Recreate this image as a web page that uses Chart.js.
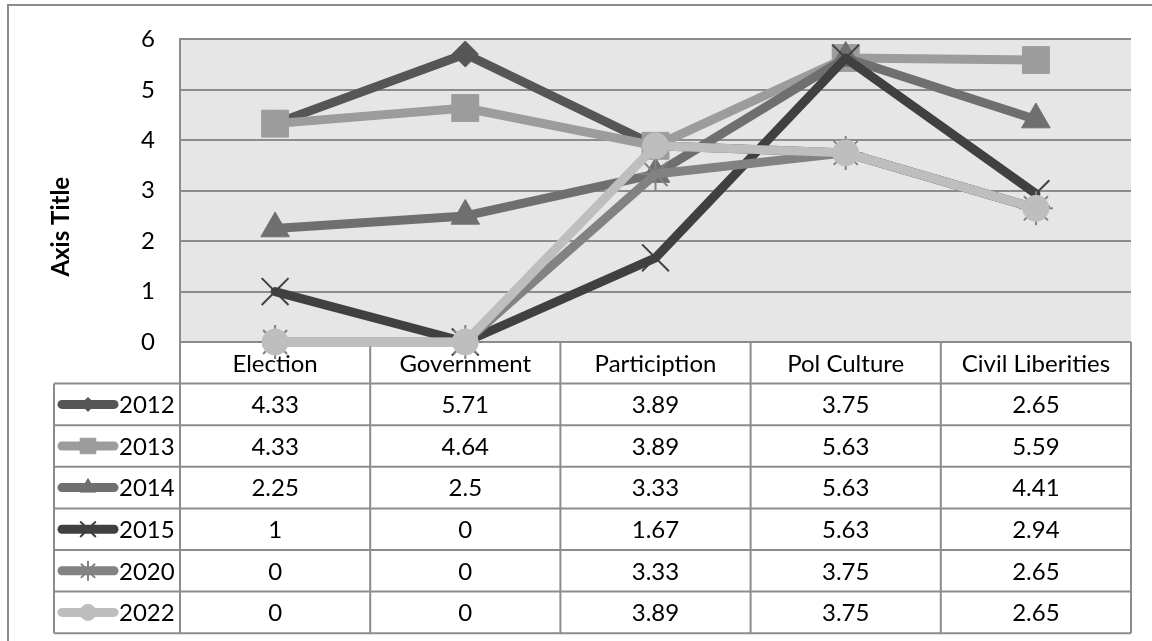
<!DOCTYPE html>
<html>
<head>
<meta charset="utf-8">
<script src="https://cdn.jsdelivr.net/npm/chart.js@4/dist/chart.umd.min.js"></script>
<style>
  html, body { margin: 0; padding: 0; background: #fff; }
  canvas { display: block; }
</style>
</head>
<body>
<canvas id="c" width="1152" height="641"></canvas>
<script>
// Categories along the x axis (also the table header)
const categories = ['Election', 'Government', 'Particiption', 'Pol Culture', 'Civil Liberities'];

// Series, one per year
const years = ['2012', '2013', '2014', '2015', '2020', '2022'];
const v2012 = [4.33, 5.71, 3.89, 3.75, 2.65];
const v2013 = [4.33, 4.64, 3.89, 5.63, 5.59];
const v2014 = [2.25, 2.5, 3.33, 5.63, 4.41];
const v2015 = [1, 0, 1.67, 5.63, 2.94];
const v2020 = [0, 0, 3.33, 3.75, 2.65];
const v2022 = [0, 0, 3.89, 3.75, 2.65];

// Value axis ticks
const yTicks = [0, 1, 2, 3, 4, 5, 6];

const seriesValues = [v2012, v2013, v2014, v2015, v2020, v2022];

// Styling per series (r: marker radius on the plot, key: marker radius in the table key)
const styles = [
  { color: '#565656', point: 'rectRot',  r: 13,   bw: 1, key: 7 },
  { color: '#9c9c9c', point: 'rect',     r: 19,   bw: 1, key: 11 },
  { color: '#6f6f6f', point: 'triangle', r: 16.5, bw: 1, key: 9 },
  { color: '#404040', point: 'crossRot', r: 19,   bw: 2, key: 11 },
  { color: '#828282', point: 'star',     r: 17,   bw: 2, key: 10 },
  { color: '#bebebe', point: 'circle',   r: 13,   bw: 1, key: 8 }
];

const FONT = 'Lato, "Open Sans", sans-serif';
const GRID = '#8c8c8c';
const ROW_H = 41.6;
const KEY_LEFT = 54;

const datasets = years.map((y, i) => ({
  label: y,
  data: seriesValues[i],
  borderColor: styles[i].color,
  backgroundColor: styles[i].color,
  borderWidth: 9,
  borderJoinStyle: 'round',
  borderCapStyle: 'round',
  pointStyle: styles[i].point,
  pointRadius: styles[i].r,
  pointHoverRadius: styles[i].r,
  pointBorderWidth: styles[i].bw,
  pointBorderColor: styles[i].color,
  pointBackgroundColor: styles[i].color,
  tension: 0,
  clip: false,
  order: years.length - i
}));

const tablePlugin = {
  id: 'dataTable',
  beforeDraw(chart) {
    const { ctx, chartArea: a } = chart;
    ctx.save();
    ctx.fillStyle = '#fff';
    ctx.fillRect(0, 0, chart.width, chart.height);
    // chart frame
    ctx.strokeStyle = GRID;
    ctx.lineWidth = 2;
    ctx.beginPath();
    ctx.moveTo(8, chart.height + 2);
    ctx.lineTo(8, 5);
    ctx.lineTo(chart.width + 2, 5);
    ctx.stroke();
    // plot area fill
    ctx.fillStyle = '#e6e6e6';
    ctx.fillRect(a.left, a.top, a.right - a.left, a.bottom - a.top);
    ctx.restore();
  },
  beforeDatasetsDraw(chart) {
    const { ctx, chartArea: a } = chart;
    const colW = (a.right - a.left) / categories.length;
    const top = a.bottom;
    const bottom = top + ROW_H * (years.length + 1);
    ctx.save();
    ctx.strokeStyle = GRID;
    ctx.lineWidth = 2;
    ctx.beginPath();
    // horizontal rules
    ctx.moveTo(a.left, top);
    ctx.lineTo(a.right, top);
    for (let k = 1; k <= years.length + 1; k++) {
      const y = top + k * ROW_H;
      ctx.moveTo(KEY_LEFT, y);
      ctx.lineTo(a.right, y);
    }
    // vertical rules
    ctx.moveTo(KEY_LEFT, top + ROW_H);
    ctx.lineTo(KEY_LEFT, bottom);
    for (let j = 0; j <= categories.length; j++) {
      const x = a.left + j * colW;
      ctx.moveTo(x, top);
      ctx.lineTo(x, bottom);
    }
    ctx.stroke();

    // header and values
    ctx.fillStyle = '#000';
    ctx.font = '24px ' + FONT;
    ctx.textAlign = 'center';
    ctx.textBaseline = 'middle';
    const xs = chart.scales.x;
    categories.forEach((c, j) => {
      ctx.fillText(c, xs.getPixelForValue(j), top + ROW_H / 2 + 1);
    });
    seriesValues.forEach((vals, i) => {
      const cy = top + (i + 1.5) * ROW_H + 1;
      vals.forEach((v, j) => {
        ctx.fillText(String(v), xs.getPixelForValue(j), cy);
      });
    });

    // legend keys
    years.forEach((yr, i) => {
      const cy = top + (i + 1.5) * ROW_H;
      const s = styles[i];
      ctx.strokeStyle = s.color;
      ctx.lineWidth = 9;
      ctx.lineCap = 'round';
      ctx.beginPath();
      ctx.moveTo(62, cy);
      ctx.lineTo(114, cy);
      ctx.stroke();
      ctx.lineCap = 'butt';
      ctx.lineWidth = s.bw;
      ctx.fillStyle = s.color;
      ctx.strokeStyle = s.color;
      Chart.helpers.drawPoint(ctx, {
        pointStyle: s.point, radius: s.key, rotation: 0, borderWidth: s.bw
      }, 88, cy);
      ctx.fillStyle = '#000';
      ctx.textAlign = 'left';
      ctx.fillText(yr, 119, cy + 1);
    });

    // value axis title
    ctx.translate(61, (a.top + a.bottom) / 2 + 36);
    ctx.rotate(-Math.PI / 2);
    ctx.font = 'bold 24px ' + FONT;
    ctx.textAlign = 'center';
    ctx.fillText('Axis Title', 0, 0);
    ctx.restore();
  }
};

new Chart(document.getElementById('c'), {
  type: 'line',
  data: { labels: categories, datasets },
  options: {
    responsive: false,
    devicePixelRatio: 1,
    animation: false,
    events: [],
    layout: { padding: { left: 0, top: 36, right: 20, bottom: 641 - 342 } },
    plugins: { legend: { display: false }, tooltip: { enabled: false }, title: { display: false } },
    scales: {
      x: { type: 'category', offset: true, display: false },
      y: {
        min: yTicks[0],
        max: yTicks[yTicks.length - 1],
        afterFit(scale) { scale.width = 180; },
        afterBuildTicks(scale) { scale.ticks = yTicks.map(v => ({ value: v })); },
        ticks: { color: '#000', padding: 25, font: { family: FONT, size: 24 } },
        grid: { color: GRID, lineWidth: 2, drawTicks: false },
        border: { display: true, color: GRID, width: 2 }
      }
    }
  },
  plugins: [tablePlugin]
});
</script>
</body>
</html>
